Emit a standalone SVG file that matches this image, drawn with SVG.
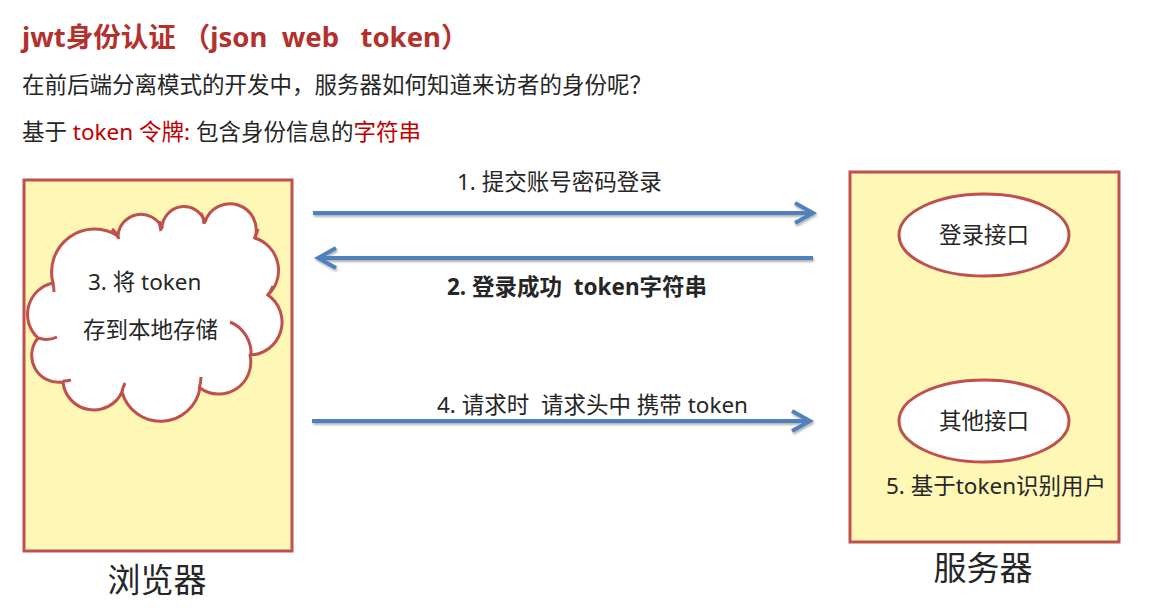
<svg xmlns="http://www.w3.org/2000/svg" width="1158" height="613" viewBox="0 0 1158 613">
<defs>
<style>
text{font-family:"Noto Sans","Noto Sans CJK SC",sans-serif;fill:#262626}
.title{font-size:27.5px;font-weight:bold;fill:#b3302d}
.body{font-size:22.5px}
.red{fill:#c00000}
.lbl{font-size:22.5px}
.big{font-size:33px;text-anchor:middle}
.box{fill:#fff7b5;stroke:#c0504d;stroke-width:3}
.oval{fill:#fff;stroke:#c0504d;stroke-width:3}
.cloud{fill:#fff;stroke:#c0504d;stroke-width:3;stroke-linejoin:round}
.inner{fill:none;stroke:#c0504d;stroke-width:3}
.arrow{stroke:#4f81bd;stroke-width:4;fill:none;marker-end:url(#head)}
.ctr{text-anchor:middle}
</style>
<marker id="head" viewBox="-22 -13 26 26" refX="0" refY="0" markerWidth="26" markerHeight="26" markerUnits="userSpaceOnUse" orient="auto">
<path d="M-18,-10 L0,0 L-18,10" fill="none" stroke="#4f81bd" stroke-width="4"/>
</marker>
<filter id="sh" filterUnits="userSpaceOnUse" x="0" y="0" width="1158" height="613">
<feDropShadow dx="1" dy="2" stdDeviation="1.2" flood-color="#000" flood-opacity="0.3"/>
</filter>
</defs>

<g id="header">
<text class="title" x="22" y="47" xml:space="preserve">jwt身份认证 （json  web   token）</text>
<text class="body" x="22" y="93">在前后端分离模式的开发中，服务器如何知道来访者的身份呢？</text>
<text class="body" x="22" y="140" xml:space="preserve">基于 <tspan class="red">token 令牌:</tspan> 包含身份信息的<tspan class="red">字符串</tspan></text>
</g>

<g id="browser">
<rect class="box" x="24" y="180" width="268" height="371"/>
<text class="big" x="157" y="592">浏览器</text>
</g>

<g id="cloud">
<path class="cloud" d="M53,283 A43,43 0 0 1 118,236 A23,23 0 0 1 162,228 A22,22 0 0 1 205,222 A26,26 0 0 1 255,238 A34,34 0 0 1 268,295 A33,33 0 0 1 250,355 A32,32 0 0 1 200,388 A40,40 0 0 1 122,392 A31,31 0 0 1 63,382 A27,27 0 0 1 38,338 A32,32 0 0 1 53,283 Z"/>
<path class="inner" d="M119,239 A23,23 0 0 0 112,229"/>
<path class="inner" d="M161,231 A22,22 0 0 1 160,221"/>
<path class="inner" d="M204,224 A26,26 0 0 0 201,213"/>
<path class="inner" d="M254,239 A34,34 0 0 0 258,229"/>
<path class="inner" d="M267,296 A33,33 0 0 0 273,286"/>
<path class="inner" d="M230,322 A34,34 0 0 1 251,356"/>
<path class="inner" d="M199,389 A40,40 0 0 0 201,377"/>
<path class="inner" d="M122,392 A31,31 0 0 1 125,383"/>
<path class="inner" d="M63,381 A27,27 0 0 0 71,380"/>
<path class="inner" d="M38,338 A26,26 0 0 0 57,337"/>
<path class="inner" d="M53,283 A43,43 0 0 1 54,292"/>
<text class="lbl" x="88" y="290">3. 将 token</text>
<text class="lbl" x="83" y="338">存到本地存储</text>
</g>

<g id="server">
<rect class="box" x="850" y="172" width="269" height="370"/>
<text class="big" x="983" y="580">服务器</text>
<text class="lbl" x="886" y="494">5. 基于token识别用户</text>
</g>

<g id="login-api">
<ellipse class="oval" cx="984" cy="235" rx="85" ry="41"/>
<text class="lbl ctr" x="984" y="243">登录接口</text>
</g>

<g id="other-api">
<ellipse class="oval" cx="984" cy="421" rx="85" ry="41"/>
<text class="lbl ctr" x="984" y="429">其他接口</text>
</g>

<g id="connectors">
<g filter="url(#sh)">
<line class="arrow" x1="313" y1="213" x2="813" y2="213"/>
<line class="arrow" x1="813" y1="258" x2="318" y2="258"/>
<line class="arrow" x1="312" y1="421" x2="810" y2="421"/>
</g>
<text class="lbl" x="457" y="190">1. 提交账号密码登录</text>
<text class="lbl" x="447" y="295" font-weight="bold" xml:space="preserve">2. 登录成功  token字符串</text>
<text class="lbl" x="437" y="413" xml:space="preserve">4. 请求时  请求头中 携带 token</text>
</g>
</svg>
